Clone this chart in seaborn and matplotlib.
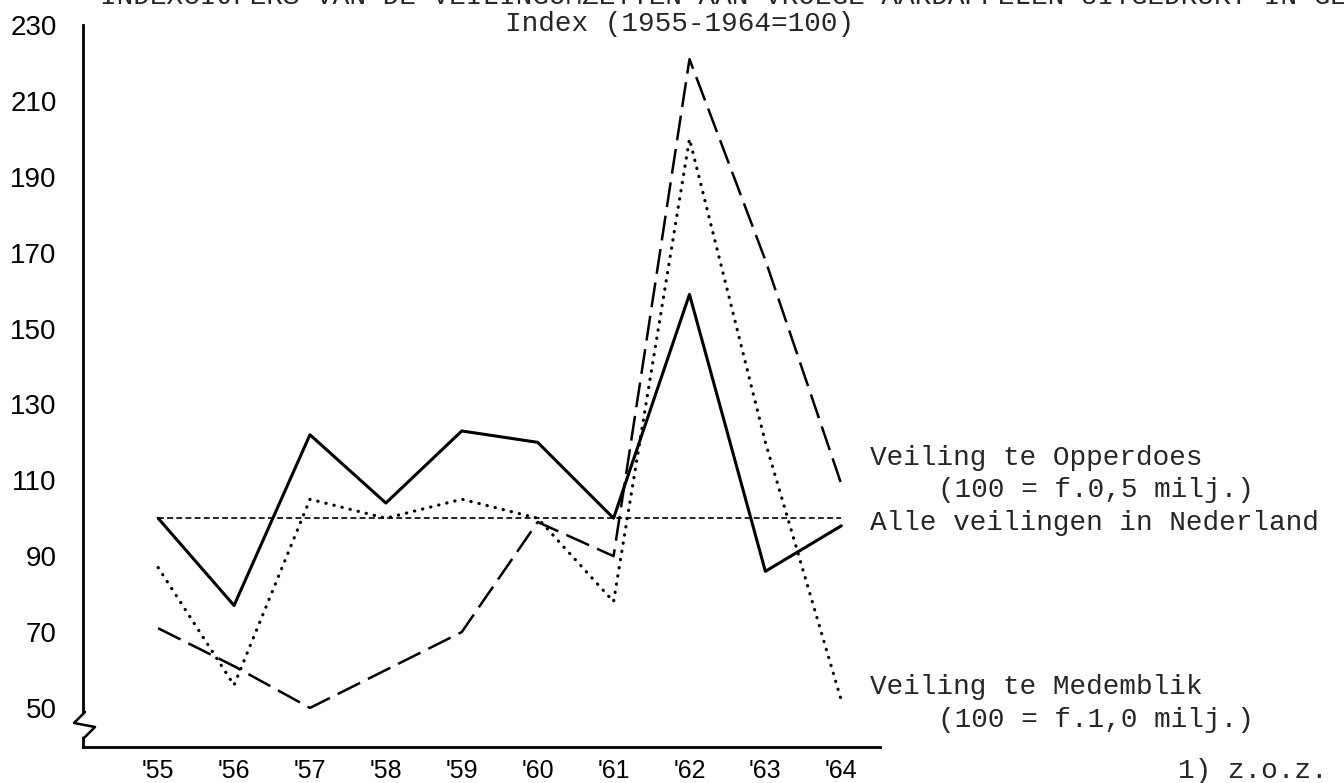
import numpy as np
import pandas as pd
import seaborn as sns
import matplotlib.pyplot as plt

# index values (1955-1964 = 100)
jaren = [1955, 1956, 1957, 1958, 1959, 1960, 1961, 1962, 1963, 1964]
jaar_labels = ["'55", "'56", "'57", "'58", "'59", "'60", "'61", "'62", "'63", "'64"]
opperdoes = [71, 61, 50, 60, 70, 99, 90, 221, 168, 109]
nederland = [100, 77, 122, 104, 123, 120, 100, 159, 86, 98]
medemblik = [87, 56, 105, 100, 105, 100, 78, 200, 120, 52]
basis = [100, 100, 100, 100, 100, 100, 100, 100, 100, 100]
y_ticks = [50, 70, 90, 110, 130, 150, 170, 190, 210, 230]

W, H = 1344, 783


def px(x, y):
    # pixel position (from top left) to figure fraction
    return x / W, 1 - y / H


sns.set_style('white')
plt.rcParams['font.family'] = ['Liberation Sans', 'DejaVu Sans']
typewriter = ['Liberation Mono', 'DejaVu Sans Mono']

fig = plt.figure(figsize=(W / 100, H / 100), dpi=100)
ax = fig.add_axes([83 / W, 36 / H, 797 / W, 722 / H])

# the flat reference line and the three series
sns.lineplot(x=jaren, y=basis, ax=ax, color='black', linewidth=1.2,
             linestyle=(0, (3.5, 2)))
sns.lineplot(x=jaren, y=nederland, ax=ax, color='black', linewidth=2.2)
sns.lineplot(x=jaren, y=opperdoes, ax=ax, color='black', linewidth=1.8,
             linestyle=(0, (10, 3.5)))
sns.lineplot(x=jaren, y=medemblik, ax=ax, color='black', linewidth=2.3,
             linestyle=(0, (0.1, 2.5)), dash_capstyle='round')

ax.set_xlim(1954.01, 1964.51)
ax.set_ylim(39.7, 230)
ax.set_xticks(jaren)
ax.set_xticklabels(jaar_labels)
ax.set_yticks(y_ticks)
ax.set_xlabel('')
ax.set_ylabel('')
ax.tick_params(axis='both', direction='in', length=11, width=1.5,
               colors='black', labelsize=20)
ax.tick_params(axis='x', pad=9, labelsize=18)
ax.tick_params(axis='y', pad=19)

sns.despine(ax=ax)
for side in ['left', 'bottom']:
    ax.spines[side].set_linewidth(2.0)
    ax.spines[side].set_color('black')

# axis break on the y axis just below 50
zx = np.array([85, 74, 95, 84]) / W
zy = 1 - np.array([712, 723, 727, 738]) / H
fig.add_artist(plt.Line2D([83 / W, 83 / W], [1 - 716 / H, 1 - 734 / H],
                          color='white', linewidth=4))
fig.add_artist(plt.Line2D(zx, zy, color='black', linewidth=1.8))

# titles, the first one partly cut off at the top of the scan
fig.text(*px(100, 4), 'INDEXCIJFERS VAN DE VEILINGOMZETTEN AAN VROEGE AARDAPPELEN UITGEDRUKT IN GELD 1)',
         family=typewriter, fontsize=20, va='baseline', ha='left')
fig.text(*px(680, 24), 'Index (1955-1964=100)', family=typewriter,
         fontsize=20, va='center', ha='center')

# labels at the right of the lines
fig.text(*px(870, 458), 'Veiling te Opperdoes', family=typewriter, fontsize=20, va='center')
fig.text(*px(938, 490), '(100 = f.0,5 milj.)', family=typewriter, fontsize=20, va='center')
fig.text(*px(870, 523), 'Alle veilingen in Nederland', family=typewriter, fontsize=20, va='center')
fig.text(*px(870, 687), 'Veiling te Medemblik', family=typewriter, fontsize=20, va='center')
fig.text(*px(938, 720), '(100 = f.1,0 milj.)', family=typewriter, fontsize=20, va='center')
fig.text(*px(1178, 771), '1) z.o.z.', family=typewriter, fontsize=20, va='center')

fig.savefig('out.png', dpi=100)
